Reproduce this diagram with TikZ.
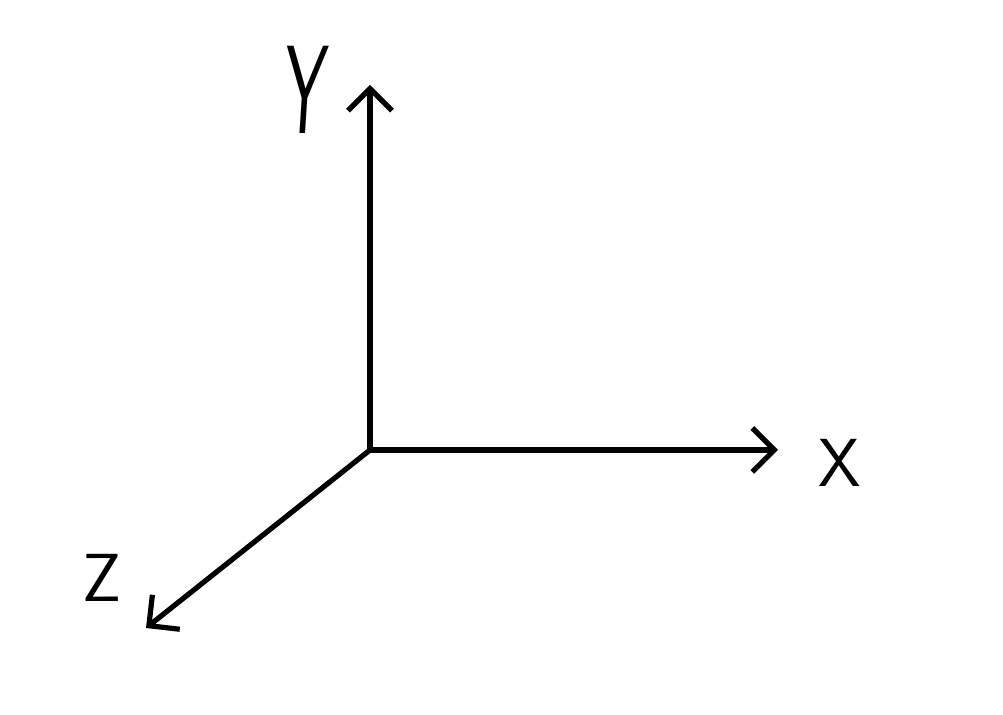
\documentclass[tikz,border=0pt]{standalone}
\usetikzlibrary{arrows.meta}
\tikzset{
    axis/.style={line width=2.6pt, -{Straight Barb[length=11pt, width=22pt, line width=2.6pt]}},
    axislabel/.style={font=\sffamily\fontsize{34}{34}\selectfont, inner sep=0pt}
}
\begin{document}
\begin{tikzpicture}[x=0.5pt, y=-0.5pt]

% Canvas
\useasboundingbox (0, 0) rectangle (1003, 715);

% Axis end points
\coordinate (O) at (370, 450);
\coordinate (xend) at (778, 450);
\coordinate (yend) at (370, 85);
\coordinate (zend) at (146, 628);

% Draw the three axes
\draw[axis] (O) -- (xend);
\draw[axis] (O) -- (yend);
\draw[axis] (O) -- (zend);

% Axis labels
\node[axislabel] (xlabel) at (840, 463) {X};
\node[axislabel, yscale=1.85, xslant=0.12] (ylabel) at (306, 90) {Y};
\node[axislabel] (zlabel) at (102, 578) {Z};

\end{tikzpicture}
\end{document}
